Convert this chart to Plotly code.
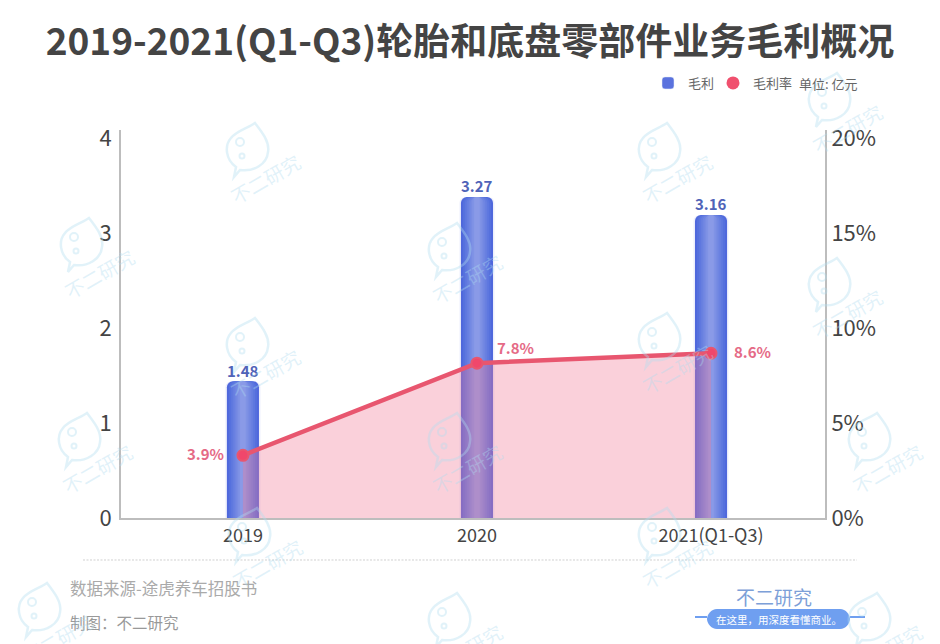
import plotly.graph_objects as go

W, H = 940, 644
L, R, T, B = 121, 825, 130, 518

categories = ["2019", "2020", "2021(Q1-Q3)"]
# heights as drawn in the picture, they sit a bit off the printed labels
profit_drawn = [1.44, 3.38, 3.19]
rate_drawn = [3.3, 8.15, 8.67]
profit_labels = ["1.48", "3.27", "3.16"]
rate_labels = ["3.9%", "7.8%", "8.6%"]
left_ticks = [0, 1, 2, 3, 4]
right_ticks = [0, 5, 10, 15, 20]
right_tick_labels = ["0%", "5%", "10%", "15%", "20%"]

FONT = "Noto Sans CJK SC"
BAR_TEXT = "#4f63b8"
RATE_TEXT = "#e56a86"
RATE_LINE = "#e8566f"
WM = "rgba(175,220,240,0.38)"
PILL = "#6f9ff0"

# bar gradient, widest layer first
bar_layers = [
    (0.150, "rgba(90,110,225,0.10)"),
    (0.137, "#4f68dc"),
    (0.120, "#5570dd"),
    (0.104, "#5d77df"),
    (0.088, "#667ee0"),
    (0.072, "#6f85e2"),
    (0.056, "#788ce3"),
    (0.040, "#8093e5"),
    (0.024, "#8a9ae7"),
]

# watermark icon centres, in page pixels
watermarks = [(248, 150), (830, 100), (660, 150), (450, 250), (82, 245), (830, 285),
              (660, 340), (248, 345), (80, 440), (450, 440), (870, 440), (250, 535),
              (660, 535), (40, 610), (450, 620), (870, 620)]


def px(x):
    return (x - L) / (R - L)


def py(y):
    return (B - y) / (B - T)


def page_text(x, y, text, size, color, anchor="left", angle=0):
    return dict(x=px(x), y=py(y), xref="paper", yref="paper", text=text, showarrow=False,
                xanchor=anchor, yanchor="middle", textangle=angle,
                font=dict(family=FONT, size=size, color=color))


def page_path(pts):
    out = ""
    for p in pts:
        out += p[0] + " ".join("%.4f,%.4f" % (px(a), py(b)) for a, b in p[1:]) + " "
    return out + "Z"


def bubble_path(cx, cy):
    shape = [("M", (7, -27)), ("C", (14, -18), (22, -8), (20, 2)), ("C", (19, 14), (6, 22), (-8, 20)),
             ("L", (-14, 27)), ("L", (-12, 17)), ("C", (-22, 10), (-24, -4), (-17, -12)),
             ("C", (-12, -19), (0, -22), (7, -27))]
    return page_path([(p[0],) + tuple((cx + a, cy + b) for a, b in p[1:]) for p in shape])


fig = go.Figure()

for w, c in bar_layers:
    fig.add_trace(go.Bar(x=categories, y=profit_drawn, width=w, marker=dict(color=c, line_width=0),
                         name="毛利", showlegend=False, yaxis="y"))

fig.add_trace(go.Scatter(x=categories, y=rate_drawn, yaxis="y2", mode="lines+markers", showlegend=False,
                         line=dict(color=RATE_LINE, width=4.5), fill="tozeroy",
                         fillcolor="rgba(240,120,150,0.35)",
                         marker=dict(size=11, color="#f0476b", line=dict(color=RATE_LINE, width=2))))

# legend only entries
fig.add_trace(go.Bar(x=[None], y=[None], name="毛利", legendwidth=20, marker=dict(color="#5a72de")))
fig.add_trace(go.Scatter(x=[None], y=[None], name="毛利率", legendwidth=44, mode="markers",
                         marker=dict(size=13, color="#f0506e")))

annotations = []
for i, (v, t) in enumerate(zip(profit_drawn, profit_labels)):
    annotations.append(dict(x=i, y=v, xref="x", yref="y", text="<b>%s</b>" % t, showarrow=False, yshift=11,
                            yanchor="middle", font=dict(family=FONT, size=15, color=BAR_TEXT)))
shifts = [(-37, 2), (39, 16), (41, 2)]
for i, (v, t, s) in enumerate(zip(rate_drawn, rate_labels, shifts)):
    annotations.append(dict(x=i, y=v, xref="x", yref="y2", text="<b>%s</b>" % t, showarrow=False,
                            xshift=s[0], yshift=s[1], yanchor="middle",
                            font=dict(family=FONT, size=15, color=RATE_TEXT)))

annotations.append(page_text(797, 83, "单位: 亿元", 13, "#666666"))
annotations.append(page_text(68, 588, "数据来源-途虎养车招股书", 16.5, "#aaaaaa"))
annotations.append(page_text(68, 622, "制图：不二研究", 15.5, "#999999"))
annotations.append(page_text(774, 596, "不二研究", 19, "#7da0d8", "center"))
annotations.append(page_text(779, 619, "在这里，用深度看懂商业。", 10.5, "#ffffff", "center"))

pill = [("M", (717, 609)), ("L", (840, 609)), ("C", (846, 609), (850, 615), (850, 619)),
        ("C", (850, 623), (846, 629), (840, 629)), ("L", (717, 629)),
        ("C", (711, 629), (707, 623), (707, 619)), ("C", (707, 615), (711, 609), (717, 609))]

shapes = [
    dict(type="line", xref="paper", yref="paper", x0=px(83), x1=px(857), y0=py(560), y1=py(560),
         line=dict(color="#bbbbbb", width=0.7, dash="2px,1.5px")),
    dict(type="path", xref="paper", yref="paper", path=page_path(pill), fillcolor=PILL, line_width=0, layer="below"),
    dict(type="line", xref="paper", yref="paper", x0=px(695), x1=px(707), y0=py(617), y1=py(617),
         line=dict(color=PILL, width=2)),
    dict(type="line", xref="paper", yref="paper", x0=px(850), x1=px(865), y0=py(617), y1=py(617),
         line=dict(color=PILL, width=2)),
]

for cx, cy in watermarks:
    shapes.append(dict(type="path", xref="paper", yref="paper", path=bubble_path(cx, cy), layer="above",
                       line=dict(color=WM, width=2.5)))
    for dx, dy, r in [(-8, -8, 4), (-6, 6, 2.5)]:
        shapes.append(dict(type="circle", xref="paper", yref="paper", layer="above",
                           x0=px(cx + dx - r), x1=px(cx + dx + r), y0=py(cy + dy - r), y1=py(cy + dy + r),
                           line=dict(color=WM, width=2)))
    annotations.append(page_text(cx + 17, cy + 28, "不二研究", 19, WM, "center", -30))

fig.update_layout(
    width=W, height=H, autosize=False,
    margin=dict(l=L, r=W - R, t=T, b=H - B, pad=0),
    paper_bgcolor="white", plot_bgcolor="white",
    barmode="overlay", barcornerradius=6,
    title=dict(text="<b>2019-2021(Q1-Q3)轮胎和底盘零部件业务毛利概况</b>", x=0.5, xanchor="center",
               y=1 - 42 / H, yanchor="middle", font=dict(family=FONT, size=37, color="#444444")),
    legend=dict(orientation="h", x=px(648), y=py(83), xanchor="left", yanchor="middle",
                font=dict(family=FONT, size=13, color="#666666"), bgcolor="rgba(0,0,0,0)"),
    xaxis=dict(type="category", categoryorder="array", categoryarray=categories, range=[-0.521, 2.487],
               showgrid=False, zeroline=False, showline=True, linecolor="#bdbdbd", linewidth=2, ticks="",
               tickfont=dict(family=FONT, size=18, color="#444444")),
    yaxis=dict(range=[0, 4.084], tickvals=left_ticks, showgrid=False, zeroline=False, showline=True,
               linecolor="#bdbdbd", linewidth=2, ticks="", ticklabelstandoff=3,
               tickfont=dict(family=FONT, size=22, color="#444444")),
    yaxis2=dict(range=[0, 20.42], overlaying="y", side="right", tickvals=right_ticks, ticktext=right_tick_labels,
                showgrid=False, zeroline=False, showline=True, linecolor="#bdbdbd", linewidth=2, ticks="",
                tickfont=dict(family=FONT, size=22, color="#444444")),
    annotations=annotations, shapes=shapes,
)

fig.write_html("out.html", config=dict(displayModeBar=False), post_script="document.body.style.margin='0';")
